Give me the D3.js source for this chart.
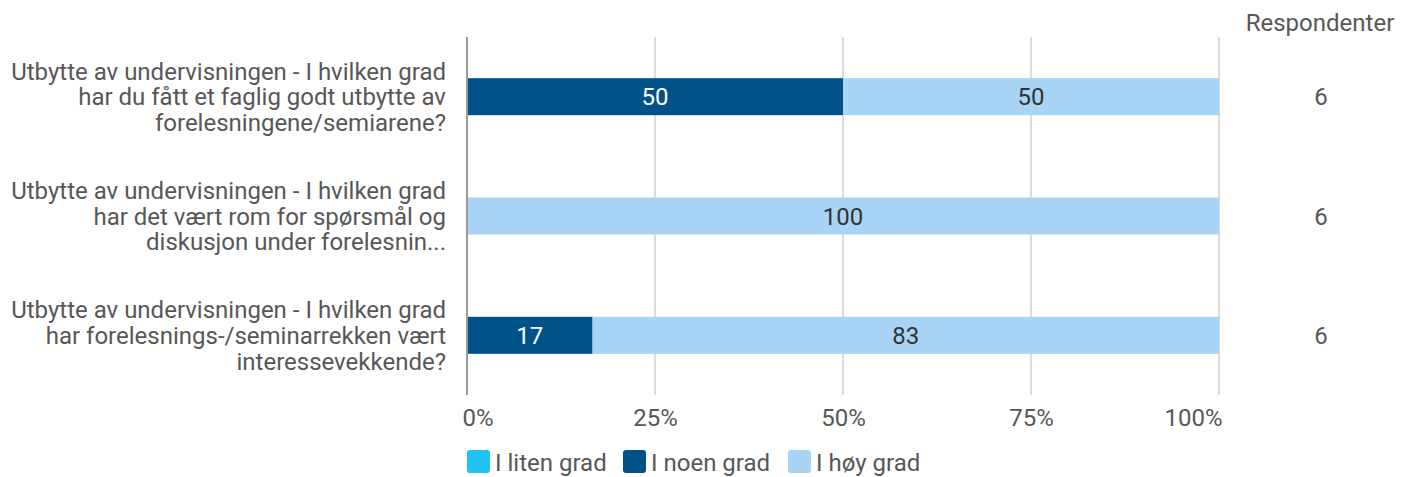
<!DOCTYPE html>
<html><head><meta charset="utf-8">
<script src="https://cdn.jsdelivr.net/npm/d3@7"></script>
<style>body{margin:0;background:#fff;font-family:Roboto,sans-serif;}</style>
</head><body><svg id="c" width="1412" height="477"></svg>
<script>
const categories = [
  ["Utbytte av undervisningen - I hvilken grad","har du fått et faglig godt utbytte av","forelesningene/semiarene?"],
  ["Utbytte av undervisningen - I hvilken grad","har det vært rom for spørsmål og","diskusjon under forelesnin..."],
  ["Utbytte av undervisningen - I hvilken grad","har forelesnings-/seminarrekken vært","interessevekkende?"]
];
const seriesNames = ["I liten grad","I noen grad","I høy grad"];
const liten = [0,0,0];
const noen = [50,0,16.7];
const hoy = [50,100,83.3];
const respondents = [6,6,6];
const ticks = [0,25,50,75,100];
const tickLabels = ["0%","25%","50%","75%","100%"];
const colors = ["#1FC4F4","#005289","#A8D4F5"];

const svg = d3.select("#c");
const x = d3.scaleLinear().domain([0,100]).range([467,1219]);
const y = d3.scaleBand().domain(d3.range(categories.length)).range([37,395]).paddingInner(0.69).paddingOuter(0.345);
const txt = "#575757";

// gridlines
svg.append("g").selectAll("line").data(ticks.slice(1)).join("line")
  .attr("x1",d=>x(d)).attr("x2",d=>x(d)).attr("y1",37).attr("y2",395)
  .attr("stroke","#b8b8b8").attr("stroke-width",1);

const seriesVals = [liten,noen,hoy];
const stacked = categories.map((c,i)=>{let acc=0;return seriesVals.map((s,k)=>{const v=s[i];const r={k,i,x0:acc,x1:acc+v,v};acc+=v;return r;});}).flat();

svg.append("g").selectAll("rect").data(stacked.filter(d=>d.v>0)).join("rect")
  .attr("x",d=>x(d.x0)).attr("width",d=>x(d.x1)-x(d.x0))
  .attr("y",d=>y(d.i)).attr("height",y.bandwidth())
  .attr("fill",d=>colors[d.k]);

svg.append("g").selectAll("text").data(stacked.filter(d=>d.v>0)).join("text")
  .attr("x",d=>(x(d.x0)+x(d.x1))/2).attr("y",d=>y(d.i)+y.bandwidth()/2)
  .attr("dy","0.36em").attr("text-anchor","middle")
  .attr("font-size",24).attr("fill",d=>d.k===1?"#fff":"#333")
  .text(d=>Math.round(d.v));

// y axis line at 0
svg.append("line").attr("x1",x(0)).attr("x2",x(0)).attr("y1",37).attr("y2",395)
  .attr("stroke","#9a9a9a").attr("stroke-width",2);

// x axis ticks
const xa = svg.append("g").attr("transform","translate(0,395)")
  .call(d3.axisBottom(x).tickValues(ticks).tickFormat((d,i)=>tickLabels[i]).tickSize(0).tickPadding(14));
xa.select(".domain").remove();
xa.selectAll("text").attr("font-size",24).attr("fill",txt).attr("font-family","Roboto")
  .attr("text-anchor",(d,i)=>i===0?"start":(i===ticks.length-1?"end":"middle"))
  .attr("dx",(d,i)=>i===0?-5:(i===ticks.length-1?3:0));

// category labels
const cl = svg.append("g").selectAll("text").data(categories).join("text")
  .attr("text-anchor","end").attr("font-size",24).attr("fill",txt)
  .attr("transform",(d,i)=>`translate(446,${y(i)+y.bandwidth()/2})`);
cl.selectAll("tspan").data(d=>d).join("tspan")
  .attr("x",0).attr("y",(d,j,n)=>(j-(n.length-1)/2)*25.8).attr("dy","0.36em").text(d=>d);

// respondents
svg.append("text").attr("x",1320).attr("y",22).attr("dy","0.36em").attr("text-anchor","middle")
  .attr("font-size",24).attr("fill",txt).text("Respondenter");
svg.append("g").selectAll("text").data(respondents).join("text")
  .attr("x",1321).attr("y",(d,i)=>y(i)+y.bandwidth()/2).attr("dy","0.36em").attr("text-anchor","middle")
  .attr("font-size",24).attr("fill",txt).text(d=>d);

// legend
const legX = [467,623,788];
const lg = svg.append("g").selectAll("g").data(seriesNames).join("g")
  .attr("transform",(d,i)=>`translate(${legX[i]},450)`);
lg.append("rect").attr("width",23).attr("height",23).attr("rx",3).attr("fill",(d,i)=>colors[i]);
lg.append("text").attr("x",28).attr("y",12).attr("dy","0.36em").attr("font-size",24).attr("fill",txt).text(d=>d);
</script></body></html>
